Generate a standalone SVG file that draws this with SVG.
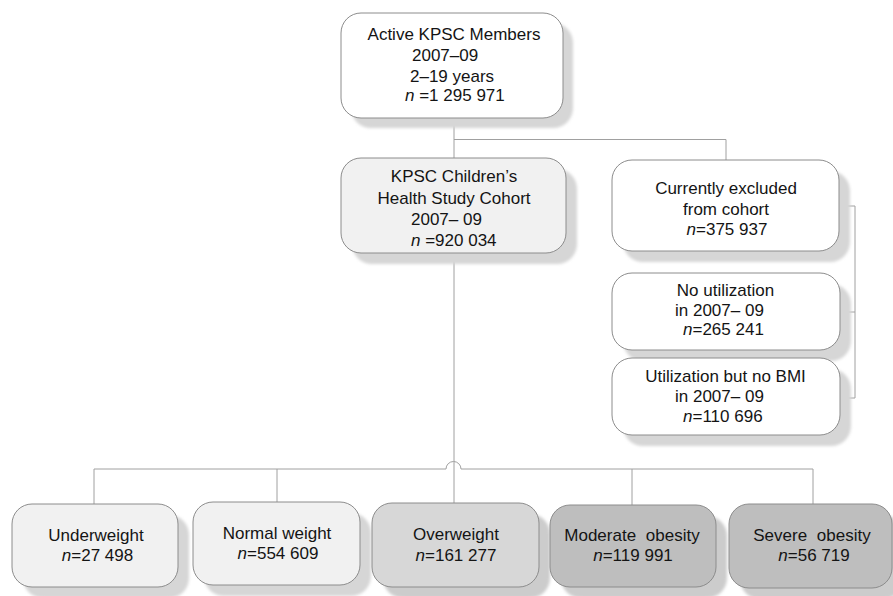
<svg xmlns="http://www.w3.org/2000/svg" width="893" height="596" viewBox="0 0 893 596">
<style>
.box{stroke:#8c8c8c;stroke-width:1}
.sh{fill:#d6d6d6;filter:url(#blur)}
.w{fill:#ffffff}
.l{fill:#f1f1f1}
.m{fill:#d7d7d7}
.d{fill:#bebebe}
text{font-family:"Liberation Sans",Arial,sans-serif;font-size:17px;fill:#141414}
.c{text-anchor:middle}
.i{font-style:italic}
.conn{fill:none;stroke:#a0a0a0;stroke-width:1}
</style>
<defs>
<filter id="blur" x="-10%" y="-10%" width="120%" height="120%"><feGaussianBlur stdDeviation="1.8"/></filter>
</defs>
<rect width="893" height="596" fill="#ffffff"/>
<g id="connectors" class="conn">
<path d="M454,118 V158"/>
<path d="M454,139.5 H726 V160"/>
<path d="M839,206 H855 V398 H840"/>
<path d="M840,312 H855"/>
<path d="M454,253 V503"/>
<path d="M94,504 V469 H446 A7.5,7.5 0 0 1 461,469 H813 V504"/>
<path d="M277,469 V502"/>
<path d="M632,469 V505"/>
</g>
<g id="active">
<rect class="sh" x="351" y="23" width="222" height="105" rx="20"/>
<rect class="box w" x="341" y="13" width="222" height="105" rx="20"/>
<text class="c" x="454" y="40">Active KPSC Members</text>
<text x="412" y="61">2007–09</text>
<text x="410" y="81.5">2–19 years</text>
<text x="405" y="101"><tspan class="i">n</tspan> =1 295 971</text>
</g>
<g id="cohort">
<rect class="sh" x="352" y="169" width="225" height="95" rx="20"/>
<rect class="box l" x="341" y="158" width="225" height="95" rx="20"/>
<text class="c" x="454" y="182">KPSC Children’s</text>
<text class="c" x="454" y="203.5">Health Study Cohort</text>
<text x="411" y="224.5">2007– 09</text>
<text x="411" y="245.5"><tspan class="i">n</tspan> =920 034</text>
</g>
<g id="excluded">
<rect class="sh" x="623" y="171" width="227" height="91" rx="20"/>
<rect class="box w" x="612" y="160" width="227" height="91" rx="20"/>
<text class="c" x="726" y="194">Currently excluded</text>
<text class="c" x="726" y="214.5">from cohort</text>
<text class="c" x="727" y="235"><tspan class="i">n</tspan>=375 937</text>
</g>
<g id="noutil">
<rect class="sh" x="623" y="284" width="228" height="77" rx="20"/>
<rect class="box w" x="612" y="273" width="228" height="77" rx="20"/>
<text class="c" x="725.5" y="296">No utilization</text>
<text x="675" y="315.5">in 2007– 09</text>
<text x="683" y="335"><tspan class="i">n</tspan>=265 241</text>
</g>
<g id="nobmi">
<rect class="sh" x="623" y="369" width="228" height="77" rx="20"/>
<rect class="box w" x="612" y="358" width="228" height="77" rx="20"/>
<text class="c" x="725.5" y="381.5">Utilization but no BMI</text>
<text x="675" y="401.5">in 2007– 09</text>
<text x="683" y="421.5"><tspan class="i">n</tspan>=110 696</text>
</g>
<g id="underweight">
<rect class="sh" x="23" y="515" width="166" height="83" rx="20"/>
<rect class="box l" x="12" y="504" width="166" height="83" rx="20"/>
<text class="c" x="96" y="541">Underweight</text>
<text class="c" x="97.5" y="561"><tspan class="i">n</tspan>=27 498</text>
</g>
<g id="normal">
<rect class="sh" x="204" y="513" width="167" height="83" rx="20"/>
<rect class="box l" x="193" y="502" width="167" height="83" rx="20"/>
<text class="c" x="277" y="538.5">Normal weight</text>
<text class="c" x="278" y="559"><tspan class="i">n</tspan>=554 609</text>
</g>
<g id="overweight">
<rect class="sh" x="383" y="514" width="167" height="84" rx="20" style="fill:#cccccc"/>
<rect class="box m" x="372" y="503" width="167" height="84" rx="20"/>
<text class="c" x="456" y="540">Overweight</text>
<text class="c" x="456" y="560.5"><tspan class="i">n</tspan>=161 277</text>
</g>
<g id="moderate">
<rect class="sh" x="561" y="516" width="166" height="82" rx="20" style="fill:#cccccc"/>
<rect class="box d" x="550" y="505" width="166" height="82" rx="20"/>
<text class="c" x="632" y="541" word-spacing="5">Moderate obesity</text>
<text class="c" x="633" y="561"><tspan class="i">n</tspan>=119 991</text>
</g>
<g id="severe">
<rect class="sh" x="740" y="515" width="163" height="84" rx="20" style="fill:#cccccc"/>
<rect class="box d" x="729" y="504" width="163" height="84" rx="20"/>
<text class="c" x="812" y="541" word-spacing="5">Severe obesity</text>
<text class="c" x="814" y="561"><tspan class="i">n</tspan>=56 719</text>
</g>
</svg>
